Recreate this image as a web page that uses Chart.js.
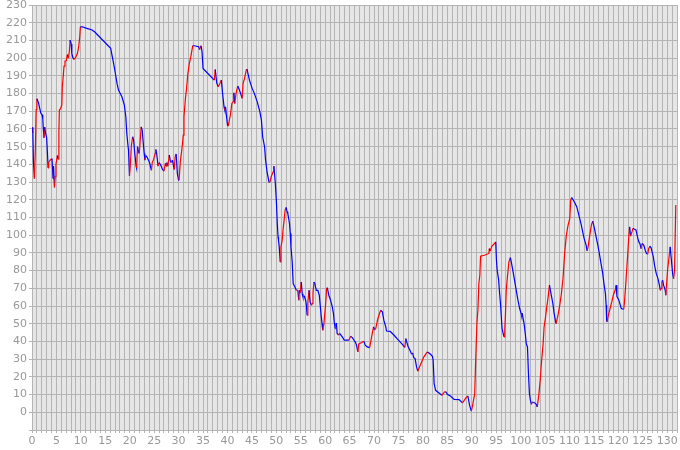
<!DOCTYPE html>
<html>
<head>
<meta charset="utf-8">
<script src="https://cdn.jsdelivr.net/npm/chart.js@4/dist/chart.umd.min.js"></script>
<style>
  body { margin: 0; background: #fff; }
  #chart { display: block; }
</style>
</head>
<body>
<canvas id="chart" width="680" height="450"></canvas>
<script>
// values (x = position on the axis, y = value)
const xVals = [
  0, 0.15, 0.3, 0.5, 0.7, 0.85, 1.0, 1.3, 1.55, 1.8, 2.05, 2.2, 2.3, 2.45, 2.6, 2.75, 3.0, 3.15, 3.3, 3.4,
  3.6, 3.9, 4.1, 4.3, 4.4, 4.6, 4.75, 4.9, 5.2, 5.35, 5.5, 5.6, 5.85, 6.1, 6.2, 6.4, 6.55, 6.75, 7.0, 7.25,
  7.45, 7.65, 7.8, 8.0, 8.15, 8.35, 8.6, 8.95, 9.3, 9.55, 9.75, 9.9, 10.3, 11.2, 12.2, 12.8, 16.1, 16.7, 17.0, 17.4,
  17.7, 18.4, 18.9, 19.2, 19.4, 19.6, 19.75, 19.95, 20.1, 20.35, 20.6, 20.8, 21.0, 21.3, 21.4, 21.6, 21.8, 21.95, 22.35, 22.55,
  22.75, 22.96, 23.1, 23.3, 23.5, 23.85, 24.1, 24.3, 24.45, 24.6, 24.9, 25.2, 25.35, 25.55, 25.8, 26.0, 26.25, 26.5, 26.7, 27.0,
  27.3, 27.45, 27.6, 27.8, 28.1, 28.3, 28.5, 28.75, 29.1, 29.3, 29.5, 29.75, 30.0, 30.1, 30.35, 30.6, 30.8, 30.95, 31.1, 31.4,
  31.6, 31.9, 32.2, 32.5, 32.9, 33.2, 34.1, 34.3, 34.6, 34.8, 35.0, 35.3, 37.3, 37.5, 37.8, 38.1, 38.4, 38.75, 39.0, 39.3,
  39.45, 39.6, 40.0, 40.15, 40.45, 40.6, 40.9, 41.2, 41.3, 41.5, 41.75, 42.1, 42.45, 42.8, 43.0, 43.2, 43.5, 43.85, 44.0, 44.5,
  45.05, 45.5, 46.1, 46.6, 46.95, 47.2, 47.6, 47.8, 48.1, 48.5, 48.7, 48.95, 49.35, 49.5, 49.8, 50.0, 50.2, 50.35, 50.45, 50.6,
  50.8, 50.95, 51.2, 51.4, 51.6, 51.8, 52.0, 52.2, 52.35, 52.7, 52.85, 53.0, 53.25, 53.45, 53.8, 54.1, 54.4, 54.6, 54.75, 54.9,
  55.1, 55.3, 55.45, 55.7, 56.0, 56.15, 56.3, 56.45, 56.7, 56.9, 57.2, 57.35, 57.5, 57.7, 57.9, 58.0, 58.2, 58.5, 58.8, 59.2,
  59.35, 59.5, 59.75, 60.1, 60.3, 60.45, 60.75, 61.1, 61.45, 61.7, 61.85, 62.05, 62.15, 62.3, 62.45, 62.75, 62.95, 63.5, 63.9, 64.5,
  64.85, 65.2, 65.55, 65.9, 66.2, 66.4, 66.7, 66.85, 67.05, 67.5, 67.9, 68.2, 68.6, 69.1, 69.5, 69.9, 70.1, 70.35, 70.7, 71.0,
  71.35, 71.7, 72.0, 72.4, 72.55, 73.3, 74.1, 74.8, 75.8, 76.3, 76.5, 76.65, 77.0, 77.35, 77.7, 77.9, 78.1, 78.4, 78.7, 78.95,
  79.6, 80.2, 80.9, 81.4, 81.95, 82.1, 82.3, 82.6, 83.3, 83.9, 84.4, 84.65, 85.0, 85.7, 86.4, 87.4, 88.1, 88.8, 89.2, 89.55,
  89.9, 90.1, 90.6, 90.8, 91.05, 91.25, 91.45, 91.65, 91.8, 92.6, 93.5, 93.6, 93.75, 94.1, 94.65, 94.9, 95.05, 95.2, 95.5, 95.7,
  95.9, 96.05, 96.2, 96.4, 96.6, 96.75, 96.9, 97.05, 97.3, 97.6, 97.9, 98.15, 98.4, 98.75, 99.1, 99.45, 99.8, 100.1, 100.2, 100.3,
  100.7, 100.95, 101.15, 101.4, 101.6, 101.8, 102.0, 102.2, 102.4, 102.9, 103.2, 103.4, 103.75, 104.0, 104.3, 104.6, 104.8, 105.1, 105.35, 105.6,
  105.9, 106.2, 106.6, 106.85, 107.1, 107.25, 107.65, 108.0, 108.35, 108.7, 109.0, 109.35, 109.7, 110.05, 110.25, 110.45, 111.0, 111.5, 112.0, 112.35,
  112.7, 113.0, 113.4, 113.6, 113.8, 114.2, 114.5, 114.75, 115.1, 115.45, 115.8, 116.1, 116.45, 116.8, 117.05, 117.35, 117.5, 117.6, 117.7, 117.95,
  118.3, 118.65, 119.0, 119.35, 119.55, 119.7, 120.1, 120.4, 120.6, 120.8, 121.1, 121.25, 121.5, 121.7, 121.95, 122.15, 122.3, 122.5, 122.8, 123.0,
  123.3, 123.6, 124.0, 124.2, 124.4, 124.65, 124.85, 125.2, 125.5, 125.75, 126.0, 126.2, 126.45, 126.7, 126.9, 127.15, 127.4, 127.75, 128.1, 128.4,
  128.6, 128.75, 128.9, 129.05, 129.25, 129.6, 129.7, 129.9, 130.1, 130.35, 130.45, 130.6, 130.95, 131.1, 131.3, 131.5, 131.75
];
const yVals = [
  158, 161, 141, 132, 150, 171, 177, 175, 172, 169, 168, 166, 161, 155, 161, 158, 155, 147, 138, 141,
  142, 143, 143, 132, 139, 127, 133, 140, 145, 143, 157, 170.7, 171.5, 173.5, 183.8, 190, 195.5, 198.4, 198.5, 202,
  200, 204, 210.2, 208, 202.7, 200.4, 199.3, 200.4, 202.7, 206.4, 211.5, 217.7, 217.7, 216.8, 216, 214.9, 205.5, 197, 192.3, 185.7,
  182, 178.2, 173.5, 166.9, 157.5, 151.8, 148, 133.4, 138.6, 150.9, 155.6, 153.7, 147, 139.2, 138, 150, 147, 146.2, 161.2, 159.4,
  152.7, 146.2, 142.4, 145, 144.3, 142.4, 140.5, 138.2, 136.7, 141, 142.8, 146.2, 148.4, 145.3, 139, 141, 140, 138.6, 137.1, 136.2,
  140.5, 139, 141, 139, 145.3, 142, 141, 142.4, 137.1, 144.3, 145.9, 134.8, 131.1, 131, 141.4, 147, 151.8, 156.5, 166.9, 177.3,
  182, 191.3, 197, 200.8, 207, 207, 206.4, 204.8, 207, 203.5, 194.2, 193.3, 187.6, 193.6, 186, 183.8, 185.4, 187.6, 180.1, 172.5,
  170.7, 172.5, 162.2, 161.6, 166, 167.8, 174.4, 175.5, 180.4, 174.4, 180, 184.2, 182, 179.1, 177.3, 185.7, 188.6, 193.3, 193.8, 187.6,
  182.9, 180.1, 175.3, 170.1, 165, 155.6, 149.9, 142.4, 135.8, 130.1, 130, 133, 135.8, 139, 129.2, 119.8, 106.6, 99.1, 97, 93.4,
  84.9, 93.4, 97.2, 103.8, 108.5, 114.1, 115.7, 113.2, 112.3, 106.6, 101, 93.4, 84.9, 72.7, 70.8, 68.9, 69, 63.3, 68.9, 67.5,
  73.6, 67, 65.2, 65.8, 63.3, 60.5, 54.8, 62, 68.9, 62.3, 60.5, 61.4, 67, 73.6, 72.7, 71, 68.9, 68.9, 66, 53.9,
  50.1, 46.3, 50.1, 61.4, 70.2, 70.2, 66.1, 63.3, 59.5, 55.7, 51, 47.3, 50.1, 50.1, 44.5, 43.6, 44.5, 42.6, 40.7, 40.7,
  40.7, 43, 42.2, 40.7, 39.5, 37.9, 34.1, 38.5, 38.8, 39.4, 40.1, 37.9, 36.9, 36.5, 42.6, 48.2, 46.5, 47.3, 52, 54.8,
  57.6, 56.7, 52, 48.2, 45.9, 45.7, 43.5, 41.3, 38.4, 36.6, 41.6, 40, 36.9, 35, 32.8, 33.5, 31, 30.3, 25.6, 23.2,
  27.5, 31.3, 34.1, 33.2, 31.6, 29.4, 16.2, 12.4, 10.9, 9.6, 11.5, 11.7, 10.2, 9.0, 7.3, 7.2, 5.3, 8.1, 9.2, 4,
  0.7, 2.9, 10.5, 29.4, 50.1, 57.6, 72.7, 77.4, 88.1, 88.7, 89.7, 92.4, 91, 93.7, 95.3, 96.2, 85.9, 80.2, 74.6, 67.1,
  60.5, 53.7, 47.3, 44.8, 42.6, 46.4, 55.8, 68.9, 76.5, 84.9, 87.4, 84, 80.2, 74.6, 68.9, 63.3, 58.6, 55.8, 54.5, 56,
  50.1, 44.5, 38.8, 36.9, 21.9, 10.5, 6.8, 4.5, 5.8, 5.3, 4.5, 3.0, 10.5, 18.1, 29.4, 38.8, 48.2, 53.9, 59.5, 64.3,
  71.8, 67.1, 61.4, 55.8, 52, 50.1, 54.8, 60.5, 67.1, 76.5, 89.7, 100, 105.6, 109.4, 119.8, 121.3, 118.8, 116, 110.4, 106.6,
  101.9, 98.1, 94.4, 91.2, 93.4, 100.9, 106, 107.9, 103.8, 99.1, 94.4, 89.7, 84, 78.4, 72.7, 67.1, 60.5, 52, 51, 54.8,
  58.6, 62.3, 66.5, 68.9, 71.8, 65.5, 63.3, 60.5, 58.6, 58.4, 58.2, 62.3, 71.8, 80.2, 90.6, 100, 104.7, 99.5, 102, 104,
  103.4, 103, 98.1, 96.2, 95.3, 92.4, 95.3, 94.4, 91.5, 89.7, 89.3, 92.4, 93.8, 92.9, 90.6, 87.8, 83.1, 78.4, 75.5, 71.8,
  68.9, 69.8, 73.6, 74.6, 71.8, 68.9, 66.1, 73.6, 81.2, 86.9, 89.7, 93.4, 83.1, 78.4, 75.5, 80, 117
];
const xTickLabels = [0, 5, 10, 15, 20, 25, 30, 35, 40, 45, 50, 55, 60, 65, 70, 75, 80, 85, 90, 95, 100, 105, 110, 115, 120, 125, 130];
const yTickLabels = [0, 10, 20, 30, 40, 50, 60, 70, 80, 90, 100, 110, 120, 130, 140, 150, 160, 170, 180, 190, 200, 210, 220, 230];

const points = xVals.map((x, i) => ({ x: x, y: yVals[i] }));

// grey plot background
const plotBg = {
  id: 'plotBg',
  beforeDraw(chart) {
    const a = chart.chartArea;
    const c = chart.ctx;
    c.save();
    c.fillStyle = '#e6e6e6';
    c.fillRect(a.left, a.top, a.right - a.left, a.bottom - a.top);
    c.restore();
  }
};

const gridCol = '#b4b4b4';
const tickFont = { family: 'DejaVu Sans', size: 11 };

new Chart(document.getElementById('chart').getContext('2d'), {
  type: 'line',
  data: {
    datasets: [{
      data: points,
      borderColor: '#0000ff',
      borderWidth: 1.2,
      pointRadius: 0,
      tension: 0,
      segment: {
        borderColor: ctx => ctx.p1.parsed.y > ctx.p0.parsed.y ? '#ff0000' : '#0000ff'
      }
    }]
  },
  options: {
    responsive: false,
    animation: false,
    events: [],
    layout: { padding: { top: 5, right: 3, left: 0, bottom: 0 } },
    plugins: { legend: { display: false }, tooltip: { enabled: false } },
    scales: {
      x: {
        type: 'linear',
        min: 0,
        max: 132,
        afterFit: s => { s.height = 20; s.paddingLeft = 0; s.paddingRight = 0; },
        grid: { color: gridCol, lineWidth: 1, tickLength: 3 },
        border: { color: gridCol },
        ticks: {
          stepSize: 1,
          autoSkip: false,
          maxRotation: 0,
          padding: 2,
          color: '#999999',
          font: tickFont,
          callback: v => xTickLabels.includes(v) ? String(v) : ''
        }
      },
      y: {
        min: -10,
        max: 230,
        afterFit: s => { s.width = 32; s.paddingTop = 0; s.paddingBottom = 0; },
        grid: { color: gridCol, lineWidth: 1, tickLength: 3 },
        border: { color: gridCol },
        ticks: {
          stepSize: 10,
          padding: 2,
          color: '#999999',
          font: tickFont,
          callback: v => yTickLabels.includes(v) ? String(v) : ''
        }
      }
    }
  },
  plugins: [plotBg]
});
</script>
</body>
</html>
